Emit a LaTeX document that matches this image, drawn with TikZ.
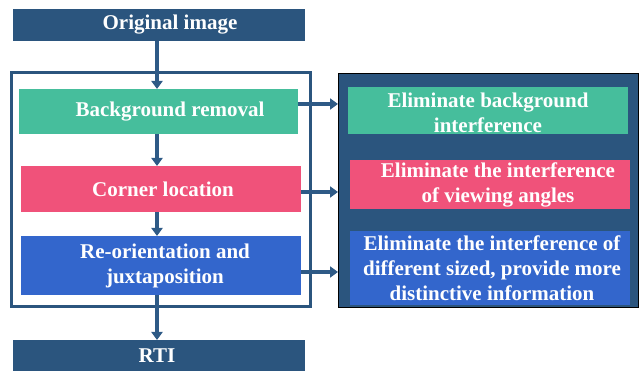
\documentclass[tikz,border=0pt]{standalone}
\usepackage{fontspec}
\setmainfont{Liberation Serif}
\usetikzlibrary{arrows.meta}
\definecolor{dkblue}{HTML}{2B557E}
\definecolor{arrblue}{HTML}{2E5A86}
\definecolor{mygreen}{HTML}{46BE9C}
\definecolor{mypink}{HTML}{F0527A}
\definecolor{myblue}{HTML}{3366CC}
\tikzset{
  box/.style={draw=none, inner sep=0pt, outer sep=0pt},
  txt/.style={text=white, font=\fontsize{21}{25}\selectfont\bfseries, align=center, inner sep=0pt},
  arr/.style={draw=arrblue, line width=3.2pt, -{Triangle[width=11pt,length=8pt]}},
}
\begin{document}
\begin{tikzpicture}[x=1pt,y=-1pt]
\useasboundingbox (0,0) rectangle (643,371);
% frames
\node[box, draw=dkblue, line width=3pt, minimum width=299pt, minimum height=234pt] (frame) at (160.5,190) {};
\node[box, fill=dkblue, draw=black, line width=1pt, minimum width=300pt, minimum height=234pt] (panel) at (488,191) {};
% left boxes
\node[box, fill=dkblue, minimum width=292pt, minimum height=32pt] (orig) at (159,25) {};
\node[box, fill=mygreen, minimum width=279pt, minimum height=45pt] (bg) at (158.5,111.5) {};
\node[box, fill=mypink, minimum width=280pt, minimum height=46pt] (corner) at (161,189) {};
\node[box, fill=myblue, minimum width=280pt, minimum height=59pt] (reo) at (161,265.5) {};
\node[box, fill=dkblue, minimum width=292pt, minimum height=31pt] (rti) at (159,355.5) {};
% right boxes
\node[box, fill=mygreen, minimum width=280pt, minimum height=47pt] (e1) at (488,111) {};
\node[box, fill=mypink, minimum width=280pt, minimum height=49pt] (e2) at (490,184.5) {};
\node[box, fill=myblue, minimum width=280pt, minimum height=74pt] (e3) at (490,268) {};
% texts
\node[txt] (torig) at (170,25) {Original image};
\node[txt] (tbg) at (170,112) {Background removal};
\node[txt] (tcorner) at (163,189) {Corner location};
\node[txt] (treo) at (165,266) {Re-orientation and\\juxtaposition};
\node[txt] (trti) at (157,356) {RTI};
\node[txt] (te1) at (488,113) {Eliminate background\\interference};
\node[txt] (te2) at (498,185) {Eliminate the interference\\of viewing angles};
\node[txt] (te3) at (492,268) {Eliminate the interference of\\different sized, provide more\\distinctive information};
% vertical arrows
\draw[arr] (orig.south -| 157,0) -- (bg.north -| 157,0);
\draw[arr] (bg.south -| 157,0) -- (corner.north -| 157,0);
\draw[arr] (corner.south -| 157,0) -- (reo.north -| 157,0);
\draw[arr] (reo.south -| 157,0) -- (rti.north -| 157,0);
% horizontal arrows
\draw[arr] (bg.east |- 0,104) -- (panel.west |- 0,104);
\draw[arr] (corner.east |- 0,192) -- (panel.west |- 0,192);
\draw[arr] (reo.east |- 0,272) -- (panel.west |- 0,272);
\end{tikzpicture}
\end{document}
